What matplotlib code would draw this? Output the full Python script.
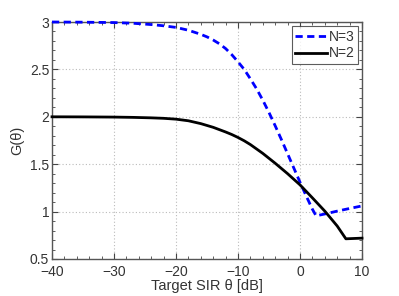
import matplotlib
matplotlib.use("Agg")
import matplotlib.pyplot as plt
from matplotlib.ticker import MultipleLocator

theta_n3 = [-40, -35, -30, -27, -24, -22, -20, -18, -16, -15, -14, -13, -12, -11, -10, -9, -8, -7, -6, -5, -4, -3, -2, -1, 0, 1, 2, 2.6, 4, 6, 8, 10]
g_n3 = [3.00, 2.998, 2.994, 2.987, 2.973, 2.96, 2.943, 2.913, 2.87, 2.843, 2.81, 2.77, 2.72, 2.655, 2.58, 2.50, 2.40, 2.295, 2.175, 2.045, 1.905, 1.76, 1.61, 1.46, 1.31, 1.165, 1.025, 0.955, 0.975, 1.005, 1.033, 1.06]

theta_n2 = [-40, -35, -30, -27, -24, -22, -20, -18, -16, -14, -12, -11, -10, -9, -8, -6, -4, -2, 0, 2, 4, 6, 7.4, 10]
g_n2 = [2.00, 1.999, 1.997, 1.994, 1.989, 1.984, 1.975, 1.958, 1.928, 1.889, 1.84, 1.813, 1.782, 1.747, 1.707, 1.614, 1.51, 1.40, 1.282, 1.145, 1.005, 0.848, 0.713, 0.72]

labels = ["N=3", "N=2"]

plt.rcParams['font.family'] = ['Liberation Sans', 'DejaVu Sans']
fig = plt.figure(figsize=(3.99, 2.96), dpi=100)
ax = fig.add_axes([52/399, 37/296, 310/399, 237/296])

ax.plot(theta_n3, g_n3, color='#0000ff', linestyle=(0, (2.6, 1.6)), linewidth=2.0, label=labels[0], clip_on=False, zorder=5)
ax.plot(theta_n2, g_n2, color='black', linestyle='-', linewidth=2.0, label=labels[1], clip_on=False, zorder=5)

ax.set_xlim(-40, 10)
ax.set_ylim(0.5, 3)
ax.xaxis.set_minor_locator(MultipleLocator(2))
ax.yaxis.set_minor_locator(MultipleLocator(0.1))
ax.set_yticks([0.5, 1, 1.5, 2, 2.5, 3])
ax.set_yticklabels(["0.5", "1", "1.5", "2", "2.5", "3"])
ax.set_xticks([-40, -30, -20, -10, 0, 10])
ax.set_xticklabels(["\u221240", "\u221230", "\u221220", "\u221210", "0", "10"])

grey = '#444444'
ax.grid(True, which='major', linestyle=(0, (1, 2)), color='#bbbbbb', linewidth=0.8)
ax.tick_params(which='both', direction='in', top=True, right=True, colors=grey, labelcolor='#333333', labelsize=10)
ax.tick_params(axis='x', pad=4)
ax.tick_params(axis='y', pad=2)
ax.tick_params(which='major', length=4)
ax.tick_params(which='minor', length=2)
for s in ax.spines.values():
    s.set_color('#555555')
    s.set_linewidth(1.0)

ax.set_xlabel("Target SIR \u03b8 [dB]", fontsize=10.5, color='#333333', labelpad=0)
ax.set_ylabel("G(\u03b8)", fontsize=10.5, color='#333333', labelpad=4)

leg = ax.legend(loc='upper right', fontsize=10, frameon=True, fancybox=False, edgecolor='#333333',
                borderpad=0.25, handlelength=2.3, handletextpad=0.1, labelspacing=0.2, borderaxespad=0.3)
leg.get_frame().set_linewidth(0.8)
leg.set_zorder(10)
for t in leg.get_texts():
    t.set_color('#333333')

fig.savefig("out.png", dpi=100)
